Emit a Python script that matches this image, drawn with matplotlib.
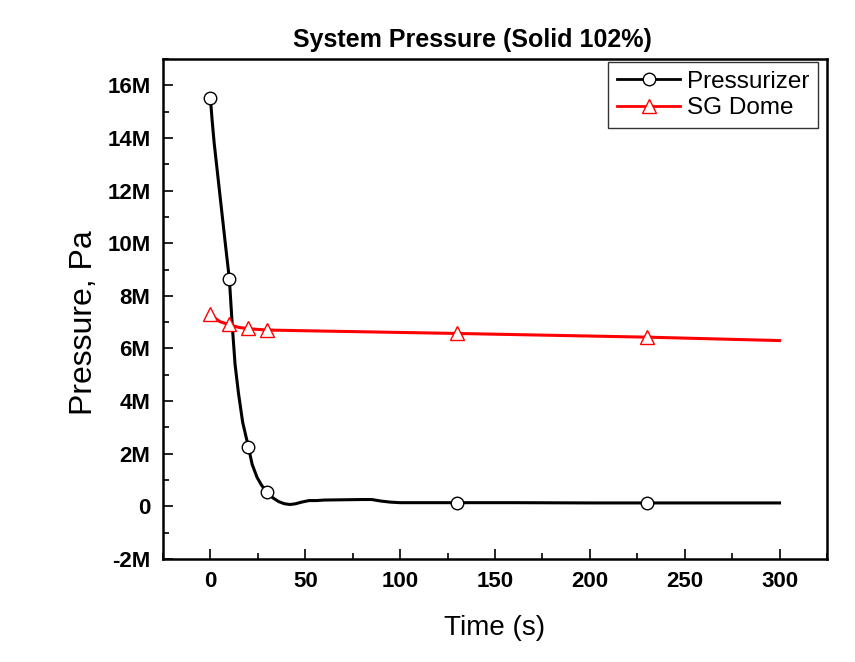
import numpy as np
import matplotlib.pyplot as plt
from matplotlib.ticker import MultipleLocator, FuncFormatter

plt.rcParams['font.family'] = ['Liberation Sans', 'DejaVu Sans']

# pressurizer pressure trace (Pa)
t_pzr = [0, 1, 2, 4, 6, 8, 10, 11.6, 13, 14.8, 17, 20, 22, 24.6, 27, 30, 33, 36, 39, 42,
         45, 48, 52, 56, 60, 70, 80, 85, 90, 95, 100, 130, 160, 200, 230, 260, 300]
p_pzr = [15.5e6, 14.6e6, 13.8e6, 12.5e6, 11.2e6, 9.9e6, 8.64e6, 6.8e6, 5.4e6, 4.3e6, 3.2e6,
         2.27e6, 1.6e6, 1.1e6, 0.8e6, 0.53e6, 0.32e6, 0.18e6, 0.1e6, 0.07e6,
         0.1e6, 0.16e6, 0.22e6, 0.22e6, 0.24e6, 0.25e6, 0.26e6, 0.26e6, 0.2e6, 0.16e6,
         0.14e6, 0.14e6, 0.14e6, 0.13e6, 0.13e6, 0.13e6, 0.13e6]
t_pzr_mk = [0, 10, 20, 30, 130, 230]
p_pzr_mk = [15.5e6, 8.64e6, 2.27e6, 0.53e6, 0.14e6, 0.13e6]

# SG dome pressure trace (Pa)
t_sg = [0, 3, 5, 8, 10, 15, 20, 30, 60, 130, 230, 300]
p_sg = [7.3e6, 7.12e6, 7.02e6, 6.95e6, 6.9e6, 6.8e6, 6.75e6, 6.7e6, 6.66e6, 6.57e6, 6.43e6, 6.3e6]
t_sg_mk = [0, 10, 20, 30, 130, 230]
p_sg_mk = [7.3e6, 6.92e6, 6.76e6, 6.7e6, 6.57e6, 6.43e6]

fig = plt.figure(figsize=(8.55, 6.62), dpi=100)
ax = fig.add_axes([0.1906, 0.1556, 0.7766, 0.7553])

ax.plot(t_pzr, p_pzr, color='black', lw=2.2, zorder=2)
ax.plot(t_pzr_mk, p_pzr_mk, ls='none', marker='o', ms=9, mfc='white', mec='black', mew=1, zorder=3)
ax.plot(t_sg, p_sg, color='red', lw=2.2, zorder=2)
ax.plot(t_sg_mk, p_sg_mk, ls='none', marker='^', ms=10, mfc='white', mec='red', mew=1, zorder=3)

# legend proxies
ax.plot([], [], color='black', lw=2, marker='o', ms=9, mfc='white', mec='black', mew=1, label='Pressurizer')
ax.plot([], [], color='red', lw=2, marker='^', ms=10, mfc='white', mec='red', mew=1, label='SG Dome')
leg = ax.legend(loc='upper right', fontsize=17.5, frameon=True, fancybox=False,
                handlelength=2.6, borderpad=0.35, labelspacing=0.2, handletextpad=0.3,
                borderaxespad=0, bbox_to_anchor=(0.987, 0.994))
leg.get_frame().set_edgecolor('black')
leg.get_frame().set_linewidth(1)

ax.set_xlim(-25, 325)
ax.set_ylim(-2e6, 17e6)
ax.xaxis.set_major_locator(MultipleLocator(50))
ax.xaxis.set_minor_locator(MultipleLocator(25))
ax.yaxis.set_major_locator(MultipleLocator(2e6))
ax.yaxis.set_minor_locator(MultipleLocator(1e6))
ax.yaxis.set_major_formatter(FuncFormatter(lambda v, p: '0' if abs(v) < 1 else '%dM' % round(v / 1e6)))

ax.tick_params(which='both', direction='in', top=False, right=False, width=1.2)
ax.tick_params(which='major', length=7.5, labelsize=16, pad=9)
ax.tick_params(which='minor', length=4)
for lab in ax.get_xticklabels() + ax.get_yticklabels():
    lab.set_fontweight('bold')
for s in ax.spines.values():
    s.set_linewidth(1.8)

ax.set_xlabel('Time (s)', fontsize=20, labelpad=16)
ax.set_ylabel('Pressure, Pa', fontsize=23)
ax.yaxis.set_label_coords(-0.097, 0.472)
fig.text(0.553, 1 - 47 / 662, 'System Pressure (Solid 102%)', fontsize=18, fontweight='bold',
         ha='center', va='baseline')

fig.savefig('out.png', dpi=100)
